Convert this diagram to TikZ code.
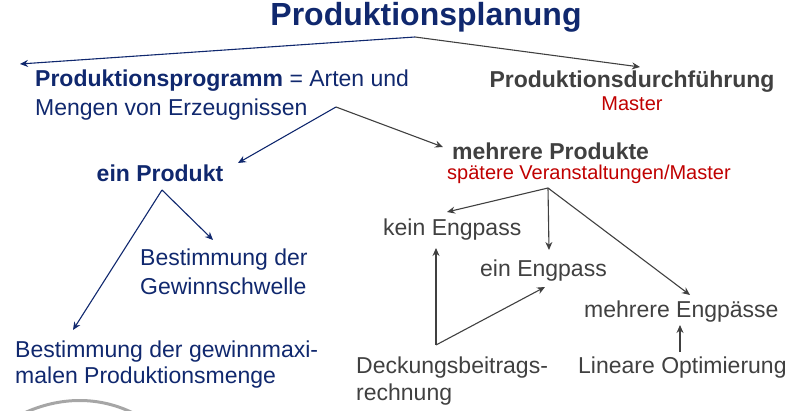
\documentclass[tikz,border=0pt]{standalone}
\usepackage{fontspec}
\setmainfont{Liberation Sans}
\usetikzlibrary{arrows.meta}
\definecolor{navy}{HTML}{10286E}
\definecolor{dgray}{HTML}{404040}
\definecolor{dred}{HTML}{C00000}
\begin{document}
\begin{tikzpicture}[x=1pt,y=-1pt,
  txt/.style={inner sep=0pt,anchor=west,font=\fontsize{23}{26}\selectfont},
  nv/.style={txt,text=navy},
  gr/.style={txt,text=dgray},
  rd/.style={txt,text=dred,font=\fontsize{20}{23}\selectfont},
  an/.style={-{Stealth[length=8pt,width=7pt]},line width=1.1pt,navy},
  ag/.style={-{Stealth[length=8pt,width=7pt]},line width=1.1pt,dgray}]
\useasboundingbox (0,0) rectangle (792,411);
\node[text=navy,inner sep=0pt,font=\fontsize{32}{36}\selectfont\bfseries] (t) at (426,17) {Produktionsplanung};
\coordinate (t0) at (415,37);
\node[nv] (pp1) at (35,81) {\textbf{Produktionsprogramm} = Arten und};
\node[nv] (pp2) at (35,110) {Mengen von Erzeugnissen};
\node[gr,anchor=center,font=\fontsize{23}{26}\selectfont\bfseries] (pd) at (632,82) {Produktionsdurchführung};
\node[rd,anchor=center] (ms) at (632,104) {Master};
\coordinate (pl) at (20,64);
\coordinate (pr) at (640,67);
\draw[an] (t0) -- (pl);
\draw[ag] (t0) -- (pr);
\coordinate (e0) at (336,107);
\node[nv,anchor=center,font=\fontsize{23}{26}\selectfont\bfseries] (ep) at (160,173) {ein Produkt};
\node[gr,font=\fontsize{23}{26}\selectfont\bfseries] (mp) at (452,151) {mehrere Produkte};
\node[rd] (sv) at (447,174) {spätere Veranstaltungen/Master};
\draw[an] (e0) -- (238,163);
\draw[ag] (e0) -- (443,147);
\coordinate (e1) at (162,190);
\node[nv] (bg1) at (140,260) {Bestimmung der};
\node[nv] (bg2) at (140,286) {Gewinnschwelle};
\node[nv] (bm1) at (15,352) {Bestimmung der gewinnmaxi-};
\node[nv] (bm2) at (15,378) {malen Produktionsmenge};
\draw[an] (e1) -- (213,240);
\draw[an] (e1) -- (73,330);
\coordinate (e2) at (548,188);
\node[gr] (ke) at (383,230) {kein Engpass};
\node[gr] (ee) at (480,271) {ein Engpass};
\node[gr] (me) at (584,312) {mehrere Engpässe};
\node[gr] (lo) at (578,368) {Lineare Optimierung};
\node[gr] (db1) at (356,368) {Deckungsbeitrags-};
\node[gr] (db2) at (356,395) {rechnung};
\draw[ag] (e2) -- (447,212);
\draw[ag] (e2) -- (549,250);
\draw[ag] (e2) -- (690,295);
\coordinate (d0) at (436,345);
\draw[ag] (d0) -- (436,248);
\draw[ag] (d0) -- (545,287);
\draw[ag] (680,352) -- (680,325);
\draw[line width=3pt,gray!70] (22,414) .. controls (60,396) and (100,396) .. (135,414);
\end{tikzpicture}
\end{document}
